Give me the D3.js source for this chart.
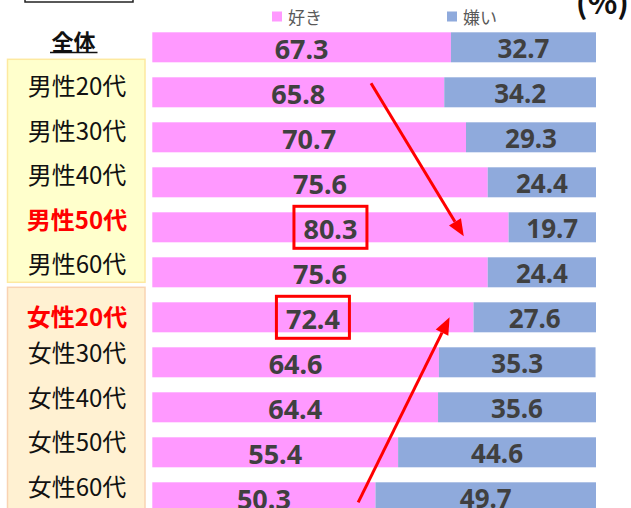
<!DOCTYPE html>
<html><head><meta charset="utf-8">
<script src="https://cdn.jsdelivr.net/npm/d3@7"></script>
<style>body{margin:0;background:#fff}svg{display:block}</style>
</head><body>
<script>
const categories = ["全体","男性20代","男性30代","男性40代","男性50代","男性60代","女性20代","女性30代","女性40代","女性50代","女性60代"];
const likeValues = [67.3,65.8,70.7,75.6,80.3,75.6,72.4,64.6,64.4,55.4,50.3];
const dislikeValues = [32.7,34.2,29.3,24.4,19.7,24.4,27.6,35.3,35.6,44.6,49.7];
const seriesNames = ["好き","嫌い"];
const highlighted = ["男性50代","女性20代"];
const maleGroup = categories.slice(1,6);
const femaleGroup = categories.slice(6);

const W = 631, H = 508;
const colors = ["#ff99ff","#8faadc"];
const svg = d3.select("body").append("svg").attr("width",W).attr("height",H);

const x = d3.scaleLinear().domain([0,100]).range([152.3,596]);
const y = d3.scaleBand().domain(categories).range([24.8,519.8]).paddingInner(1/3).paddingOuter(1/6);
const yLab = d3.scalePoint().domain(categories).range([40,485]);

// group boxes
function groupBox(group, fill, stroke, padTop, padBot){
  const top = y(group[0]) - padTop, bot = y(group[group.length-1]) + y.bandwidth() + padBot;
  svg.append("rect").attr("x",7.5).attr("y",top).attr("width",137.5).attr("height",bot-top)
    .attr("fill",fill).attr("stroke",stroke).attr("stroke-width",1.5);
}
groupBox(maleGroup,"#ffffcc","#fde9a0",18,-5);
groupBox(femaleGroup,"#fff1d2","#f9d3b2",15,10);

// top-left cut box
svg.append("rect").attr("x",25).attr("y",-20).attr("width",108).attr("height",22)
  .attr("fill","none").attr("stroke","#222").attr("stroke-width",1.5);

// bars
const rows = categories.map((c,i)=>({c, like:likeValues[i], dis:dislikeValues[i]}));
const g = svg.append("g");
g.selectAll(".like").data(rows).join("rect")
  .attr("x",x(0)).attr("y",d=>y(d.c)).attr("width",d=>x(d.like)-x(0)).attr("height",y.bandwidth())
  .attr("fill",colors[0]);
g.selectAll(".dis").data(rows).join("rect")
  .attr("x",d=>x(d.like)).attr("y",d=>y(d.c)).attr("width",d=>x(d.like+d.dis)-x(d.like)).attr("height",y.bandwidth())
  .attr("fill",colors[1]);

const valFont = "'Noto Sans','Open Sans',sans-serif";
g.selectAll(".lv").data(rows).join("text")
  .attr("x",d=>(x(0)+x(d.like))/2).attr("y",d=>y(d.c)+y.bandwidth()/2+1)
  .attr("text-anchor","middle").attr("dominant-baseline","central")
  .attr("font-family",valFont).attr("font-weight","bold").attr("font-size",27).attr("fill","#404040")
  .text(d=>d.like.toFixed(1));
g.selectAll(".dv").data(rows).join("text")
  .attr("x",d=>(x(d.like)+x(d.like+d.dis))/2).attr("y",d=>y(d.c)+y.bandwidth()/2+1)
  .attr("text-anchor","middle").attr("dominant-baseline","central")
  .attr("font-family",valFont).attr("font-weight","bold").attr("font-size",26).attr("fill","#404040")
  .text(d=>d.dis.toFixed(1));

// category labels
const jp = "'Noto Sans CJK JP',sans-serif";
svg.selectAll(".cat").data(categories).join("text")
  .attr("x",d=>d==="全体"?73.5:77).attr("y",d=>yLab(d) + (d==="女性20代"?8:0))
  .attr("text-anchor","middle").attr("dominant-baseline","central")
  .attr("font-family",jp).attr("font-size",d=>d==="全体"?22:24)
  .attr("font-weight",d=>(highlighted.includes(d)||d==="全体")?"bold":"normal")
  .attr("fill",d=>highlighted.includes(d)?"#ff0000":"#111")
  .text(d=>d);
// underline 全体
svg.append("line").attr("x1",50).attr("x2",97.5).attr("y1",52.5).attr("y2",52.5)
  .attr("stroke","#111").attr("stroke-width",1.5);

// legend
const legX = [272,447];
seriesNames.forEach((s,i)=>{
  svg.append("rect").attr("x",legX[i]).attr("y",11.5).attr("width",10).attr("height",10).attr("fill",colors[i]);
  svg.append("text").attr("x",legX[i]+16).attr("y",16.5).attr("dominant-baseline","central")
    .attr("font-family",jp).attr("font-size",17).attr("fill","#595959").text(s);
});
svg.append("text").attr("x",629).attr("y",14).attr("text-anchor","end")
  .attr("font-family",jp).attr("font-weight","bold").attr("font-size",31).attr("fill","#111").text("(%)");

// highlight boxes
highlighted.forEach(c=>{
  const i = categories.indexOf(c);
  const cx = (x(0)+x(likeValues[i]))/2, cy = y(c)+y.bandwidth()/2;
  svg.append("rect").attr("x",cx-36.5).attr("y",cy-21).attr("width",73).attr("height",42)
    .attr("fill","none").attr("stroke","#ff0000").attr("stroke-width",3);
});

// arrows
function arrow(x1,y1,x2,y2){
  const a = Math.atan2(y2-y1,x2-x1), L=17, Wd=7;
  const bx = x2 - L*Math.cos(a), by = y2 - L*Math.sin(a);
  svg.append("line").attr("x1",x1).attr("y1",y1).attr("x2",bx).attr("y2",by)
    .attr("stroke","#ff0000").attr("stroke-width",3);
  const px = -Math.sin(a)*Wd, py = Math.cos(a)*Wd;
  svg.append("path").attr("d",`M${x2},${y2}L${bx+px},${by+py}L${bx-px},${by-py}Z`).attr("fill","#ff0000");
}
const yc = c => y(c)+y.bandwidth()/2;
arrow(x(49.3), yc("男性20代")-9, x(70.2), yc("男性50代")+9);
arrow(x(46.4), yc("女性60代")+5, x(67.0), yc("女性20代"));
</script>
</body></html>
